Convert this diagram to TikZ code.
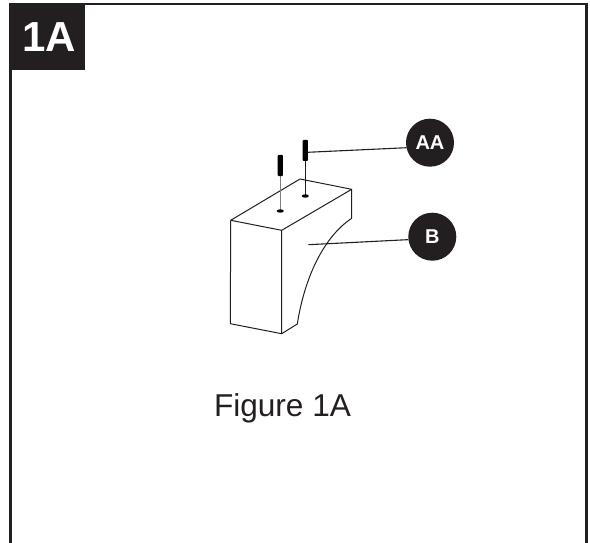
\documentclass[tikz,border=0pt]{standalone}
\usepackage{fontspec}
\setmainfont{Liberation Sans}
\definecolor{inkblack}{HTML}{231F20}

\begin{document}
\begin{tikzpicture}[
            x=1pt, y=-1pt,
            edge/.style={
              draw=inkblack,
              line width=1pt,
              line join=round
            },
            leader/.style={
              draw=inkblack,
              line width=1.1pt
            },
            badge/.style={
              circle,
              fill=inkblack,
              text=white,
              inner sep=0pt,
              minimum size=48pt,
              font=\fontsize{20}{20}\selectfont\bfseries
            }
        ]
\useasboundingbox (0, 0) rectangle (590, 543);

% frame, open at the bottom
\draw[inkblack, line width=2.6pt] (10.5, 543) -- (10.5, 4) -- (586.5, 4) -- (586.5, 543);
\node[fill=inkblack, text=white, inner sep=0pt, minimum width=75pt, minimum height=67pt,
      font=\fontsize{42}{42}\selectfont\bfseries] (tag) at (47, 37) {\hspace{4pt}1A};

% bracket
\draw[edge] (230.7, 220.3) -- (300, 179) -- (351.7, 189.3) -- (281.7, 230.3) -- cycle;
\draw[edge] (230.7, 220.3) -- (230.3, 323.7) -- (281.7, 333.7) -- (281.7, 230.3);
\draw[edge] (351.7, 189.3) -- (351.7, 218.3)
    .. controls (325, 236) and (305, 275) .. (297.3, 324) -- (281.7, 333.7);

% screws
\foreach \x/\t/\c in {280.3/155/gray, 305.3/140/inkblack} {
    \draw[\c, line width=1.2pt] (\x, \t) -- +(0, 56);
    \fill[black, rounded corners=0.8pt] (\x-2.6, \t) rectangle (\x+2.6, \t+21);
    \fill[black] (\x, \t+56) ellipse (3.6 and 1.7);
}

% callouts
\node[badge] (aa) at (430, 142.7) {AA};
\node[badge] (b) at (432.3, 236.7) {B};
\coordinate (aaend) at (307.5, 152.3);
\coordinate (bend) at (308.3, 244.7);
\draw[leader] (aaend) -- (aa.192);
\draw[leader] (bend) -- (b.187);

\node[text=inkblack, font=\fontsize{31.6}{32}\selectfont] (caption) at (282.5, 408) {Figure 1A};

\end{tikzpicture}
\end{document}
